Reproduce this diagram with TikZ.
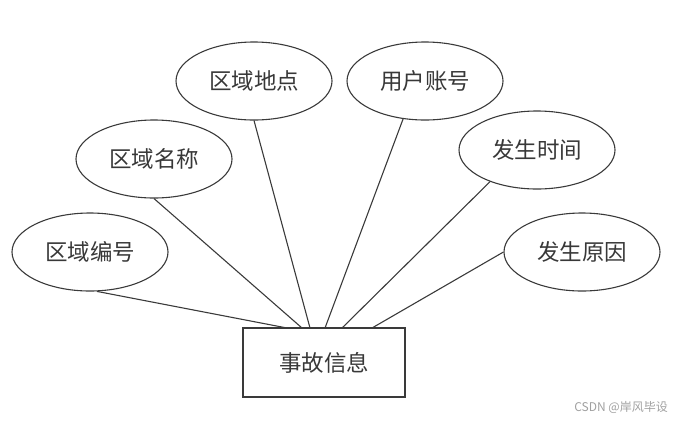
\documentclass[tikz,border=0pt]{standalone}
\usepackage{fontspec}
\setmainfont{Noto Sans CJK SC}
\usetikzlibrary{shapes.geometric,calc}
\definecolor{ink}{HTML}{3A3A3A}
\definecolor{txt}{HTML}{383838}
\definecolor{wm}{HTML}{A0A0A0}
\tikzset{
  attr/.style={ellipse, draw=ink, line width=1.1pt, minimum width=156pt, minimum height=78pt, inner sep=0pt, font=\fontsize{22.5}{26}\selectfont, text=txt},
  entity/.style={rectangle, draw=ink, line width=1.1pt, minimum width=162pt, minimum height=69pt, inner sep=0pt, font=\fontsize{22.5}{26}\selectfont, text=txt},
  link/.style={draw=ink, line width=1.1pt},
  wmark/.style={font=\fontsize{12}{14}\selectfont, text=wm, anchor=east, inner sep=0pt}
}
\begin{document}
\begin{tikzpicture}[x=1pt,y=-1pt]
\useasboundingbox (0,0) rectangle (676,421);
\node[entity] (e) at (324,362.5) {事故信息};
\node[attr] (a1) at (90,252) {区域编号};
\node[attr] (a2) at (154,159) {区域名称};
\node[attr] (a3) at (254,81) {区域地点};
\node[attr] (b1) at (425,81) {用户账号};
\node[attr] (b2) at (537,150) {发生时间};
\node[attr] (b3) at (582,252) {发生原因};
\coordinate (t1) at (287,328);
\coordinate (t2) at (302,328);
\coordinate (t3) at (310,328);
\coordinate (t4) at (325,328);
\coordinate (t5) at (342,328);
\coordinate (t6) at (372,328);
\draw[link] (a1.-80) -- (t1);
\draw[link] (a2.south) -- (t2);
\draw[link] (a3.south) -- (t3);
\draw[link] (b1.-120) -- (t4);
\draw[link] (b2.-146) -- (t5);
\draw[link] (b3.west) -- (t6);
\node[wmark] (w) at (668,407) {CSDN @岸风毕设};
\end{tikzpicture}
\end{document}
